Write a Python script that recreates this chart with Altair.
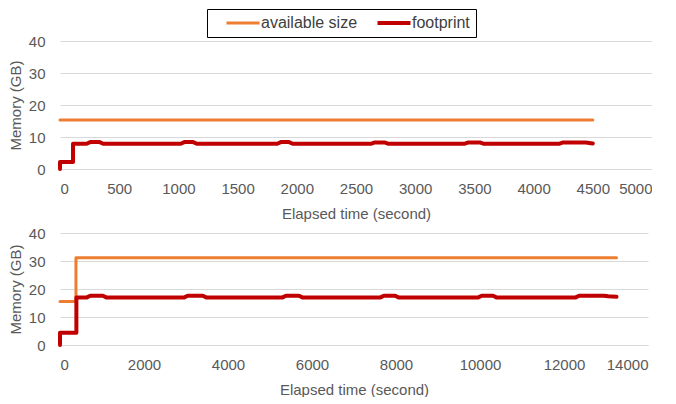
import altair as alt
import pandas as pd

series_names = ["available size", "footprint"]
series_colors = ["#ED7D31", "#C00000"]
series_widths = [3, 4]

# Top panel
top_av_t = [0, 4500]
top_av_m = [15.3, 15.3]
top_fp_t = [0, 0, 110, 110, 225, 255, 335, 365, 1020, 1050, 1125, 1155,
            1835, 1865, 1935, 1965, 2630, 2660, 2740, 2770, 3420, 3450,
            3545, 3575, 4220, 4250, 4440, 4500]
top_fp_m = [0, 2.2, 2.2, 7.9, 7.9, 8.4, 8.4, 7.9, 7.9, 8.4, 8.4, 7.9,
            7.9, 8.4, 8.4, 7.9, 7.9, 8.3, 8.3, 7.9, 7.9, 8.3,
            8.3, 7.9, 7.9, 8.3, 8.3, 8.0]

# Bottom panel
bot_av_t = [0, 380, 380, 13250]
bot_av_m = [15.5, 15.5, 31.2, 31.2]
bot_fp_t = [0, 0, 390, 390, 640, 720, 1020, 1100, 2960, 3040, 3400, 3480,
            5300, 5380, 5690, 5770, 7630, 7710, 7980, 8060, 9960, 10040,
            10310, 10390, 12280, 12360, 12950, 13050, 13250]
bot_fp_m = [0, 4.4, 4.4, 17.0, 17.0, 17.6, 17.6, 17.0, 17.0, 17.6, 17.6, 17.0,
            17.0, 17.6, 17.6, 17.0, 17.0, 17.6, 17.6, 17.0, 17.0, 17.6,
            17.6, 17.0, 17.0, 17.6, 17.6, 17.4, 17.2]

top_x_ticks = list(range(0, 5001, 500))
bot_x_ticks = list(range(0, 14001, 2000))
y_ticks = [0, 10, 20, 30, 40]


def make_df(av_t, av_m, fp_t, fp_m):
    rows = []
    for i, (t, m) in enumerate(zip(av_t, av_m)):
        rows.append({"series": series_names[0], "t": t, "m": m, "i": i})
    for i, (t, m) in enumerate(zip(fp_t, fp_m)):
        rows.append({"series": series_names[1], "t": t, "m": m, "i": i})
    return pd.DataFrame(rows)


FONT = "Liberation Sans"
GRAY = "#595959"


def panel(df, xmax, xticks, w, h, show_legend):
    legend = alt.Legend(
        title=None, orient="none", direction="horizontal",
        legendX=147, legendY=-32,
        strokeColor="#000000", fillColor="white", padding=6,
        symbolType="M-3,0H3", symbolStrokeWidth=4, symbolSize=121,
        symbolOffset=22, labelOffset=10, columnPadding=6,
        labelFont=FONT, labelFontSize=16, labelColor="#404040",
    ) if show_legend else None
    return alt.Chart(df).mark_line(strokeCap="round", strokeJoin="round").encode(
        x=alt.X("t:Q", scale=alt.Scale(domain=[0, xmax], nice=False),
                axis=alt.Axis(values=xticks, format="d", title="Elapsed time (second)",
                              grid=False, ticks=False, labelPadding=12,
                              domainColor="#D9D9D9", titlePadding=10)),
        y=alt.Y("m:Q", scale=alt.Scale(domain=[0, 40], nice=False),
                axis=alt.Axis(values=y_ticks, format="d", title="Memory (GB)", grid=True,
                              gridColor="#D9D9D9", domain=False, ticks=False,
                              labelPadding=15, titlePadding=5)),
        color=alt.Color("series:N", scale=alt.Scale(domain=series_names, range=series_colors),
                        legend=legend),
        strokeWidth=alt.StrokeWidth("series:N",
                                    scale=alt.Scale(domain=series_names, range=series_widths),
                                    legend=None),
        order="i:Q",
    ).properties(width=w, height=h)


top = panel(make_df(top_av_t, top_av_m, top_fp_t, top_fp_m), 5000, top_x_ticks, 592, 128, True)
bot = panel(make_df(bot_av_t, bot_av_m, bot_fp_t, bot_fp_m), 14000, bot_x_ticks, 588, 112, False)

chart = alt.vconcat(top, bot, spacing=5).properties(padding=0).configure_axis(
    labelFont=FONT, labelFontSize=15, labelColor=GRAY,
    titleFont=FONT, titleFontSize=15, titleColor=GRAY, titleFontWeight="normal",
).configure_view(stroke=None)

chart.save("out.html", embed_options={"renderer": "svg", "actions": False})
